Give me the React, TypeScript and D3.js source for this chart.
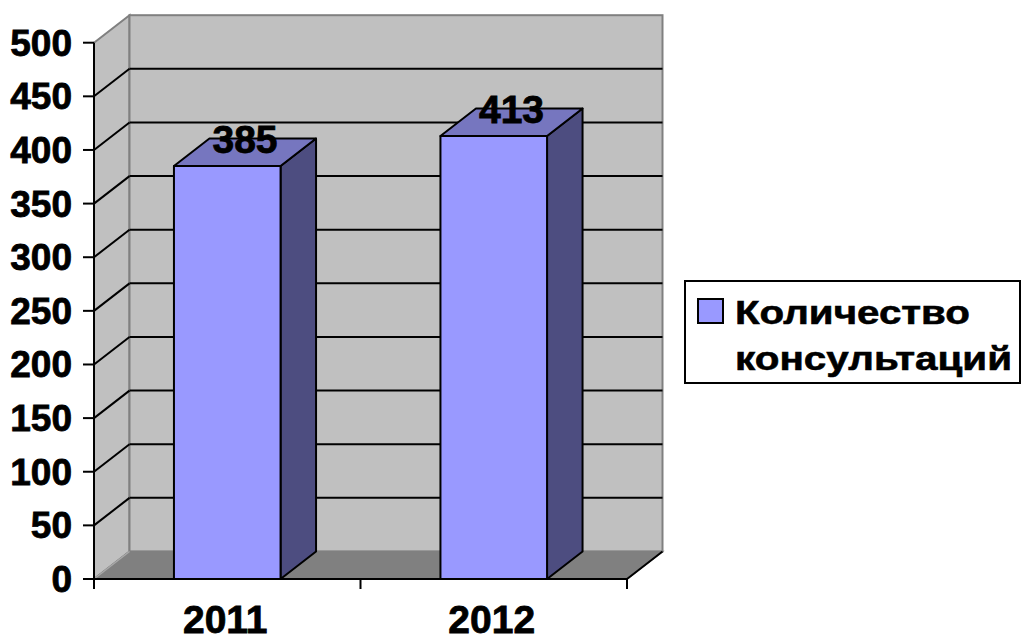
import * as d3 from "d3";

// chart data
const categories = ["2011", "2012"];
const values = [385, 413];
const seriesName = ["Количество", "консультаций"];
const yTicks = [0, 50, 100, 150, 200, 250, 300, 350, 400, 450, 500];

const W = 1028;
const H = 640;
const font = "'Liberation Sans', Arial, sans-serif";

// 3d depth of the plot box
const dx = 35.5;
const dy = -27.5;

export default function App() {
  const x = d3.scaleBand<string>().domain(categories).range([94, 627]).paddingInner(0.6).paddingOuter(0.3);
  const y = d3.scaleLinear().domain([0, 500]).range([579, 42.7]);
  const [x0, x1] = x.range();
  const y0 = y(0);
  const yTop = y(500);
  const bw = x.bandwidth();
  const pts = (p: number[][]) => p.map((q) => q.join(",")).join(" ");

  // category tick positions (band edges)
  const step = x.step();
  const catTicks = d3.range(categories.length + 1).map((i) => x0 + i * step);

  return (
    <svg width={W} height={H} style={{ position: "absolute", left: 0, top: 0, background: "#fff" }}>
      {/* side wall */}
      <polygon
        points={pts([[x0, yTop], [x0 + dx, yTop + dy], [x0 + dx, y0 + dy], [x0, y0]])}
        fill="#C0C0C0"
        stroke="#808080"
        strokeWidth={2}
      />
      {/* back wall */}
      <rect x={x0 + dx} y={yTop + dy} width={x1 - x0} height={y0 - yTop} fill="#C0C0C0" stroke="#808080" strokeWidth={2} />
      {/* floor */}
      <polygon
        points={pts([[x0, y0], [x0 + dx, y0 + dy], [x1 + dx, y0 + dy], [x1, y0]])}
        fill="#808080"
        stroke="#808080"
        strokeWidth={1.5}
      />
      <line x1={x0} y1={y0} x2={x0 + dx} y2={y0 + dy} stroke="#A8A8A8" strokeWidth={1.5} />

      {/* gridlines */}
      {yTicks.filter((t) => t > 0 && t < 500).map((t) => (
        <g key={t} stroke="#000" strokeWidth={2}>
          <line x1={x0} y1={y(t)} x2={x0 + dx} y2={y(t) + dy} />
          <line x1={x0 + dx} y1={y(t) + dy} x2={x1 + dx} y2={y(t) + dy} />
        </g>
      ))}

      {/* bars */}
      {categories.map((c, i) => {
        const bx = x(c)!;
        const by = y(values[i]);
        return (
          <g key={c} stroke="#000" strokeWidth={2} strokeLinejoin="round">
            <polygon
              points={pts([[bx + bw, by], [bx + bw + dx, by + dy], [bx + bw + dx, y0 + dy], [bx + bw, y0]])}
              fill="#4D4D80"
            />
            <polygon points={pts([[bx, by], [bx + dx, by + dy], [bx + bw + dx, by + dy], [bx + bw, by]])} fill="#7676BF" />
            <rect x={bx} y={by} width={bw} height={y0 - by} fill="#9999FF" />
          </g>
        );
      })}

      {/* axes */}
      <g stroke="#000" strokeWidth={2}>
        <line x1={x0} y1={yTop} x2={x0} y2={y0 + 1} />
        {yTicks.map((t) => (
          <line key={t} x1={x0 - 11} y1={y(t)} x2={x0} y2={y(t)} />
        ))}
        <line x1={x0} y1={y0} x2={x1} y2={y0} />
        <line x1={x1} y1={y0} x2={x1 + dx} y2={y0 + dy} />
        {catTicks.map((t, i) => (
          <line key={i} x1={t} y1={y0} x2={t} y2={y0 + 10} />
        ))}
      </g>

      {/* tick labels */}
      <g fontFamily={font} fontWeight="bold" fill="#000" stroke="#000" strokeWidth={0.8}>
        {yTicks.map((t) => (
          <text key={t} x={72} y={y(t) + 13} textAnchor="end" fontSize={37}>
            {t}
          </text>
        ))}
        {categories.map((c) => (
          <text key={c} x={x(c)! + bw / 2 - 2} y={633} textAnchor="middle" fontSize={39}>
            {c}
          </text>
        ))}
        {/* data labels */}
        {categories.map((c, i) => (
          <text key={"v" + c} x={x(c)! + bw / 2 + dx / 2} y={y(values[i]) + dy / 2 + 0.5} textAnchor="middle" fontSize={39}>
            {values[i]}
          </text>
        ))}
      </g>

      {/* legend */}
      <rect x={685} y={281} width={335} height={102} fill="#fff" stroke="#000" strokeWidth={2} />
      <rect x={698} y={299} width={25} height={24} fill="#9999FF" stroke="#000" strokeWidth={2} />
      <g fontFamily={font} fontWeight="bold" fontSize={34} fill="#000" stroke="#000" strokeWidth={0.6}>
        <text x={735} y={324} textLength={235} lengthAdjust="spacingAndGlyphs">
          {seriesName[0]}
        </text>
        <text x={735} y={370} textLength={277} lengthAdjust="spacingAndGlyphs">
          {seriesName[1]}
        </text>
      </g>
    </svg>
  );
}
